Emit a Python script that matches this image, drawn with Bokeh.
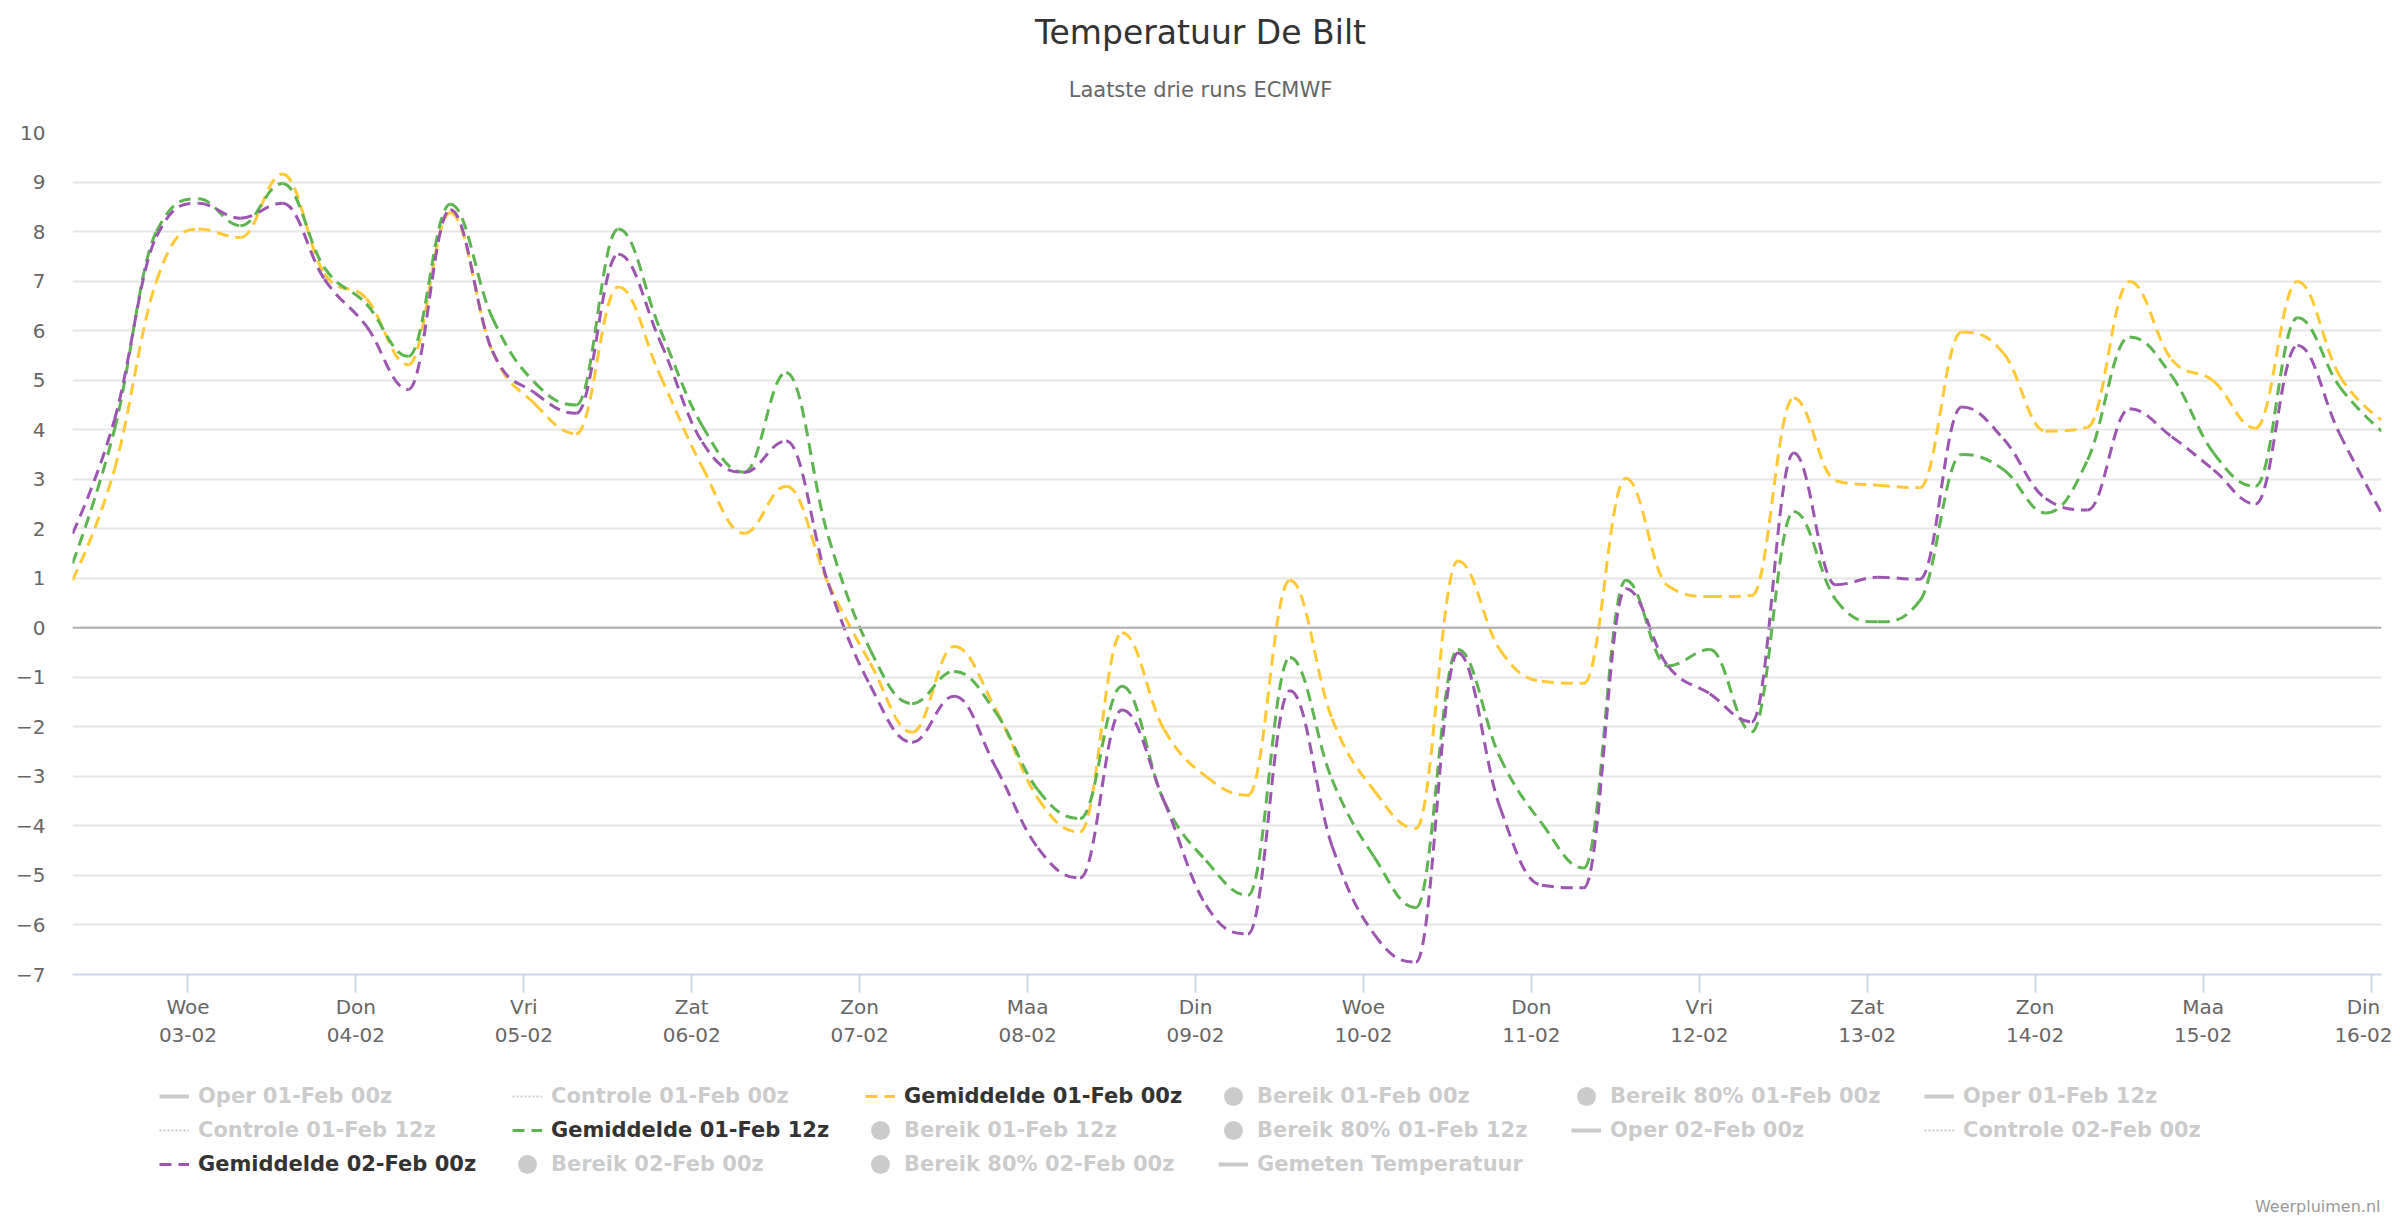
from bokeh.plotting import figure
from bokeh.layouts import column
from bokeh.models import (Range1d, FixedTicker, Legend, LegendItem, Label, Span,
                          ColumnDataSource)
from bokeh.embed import file_html
from bokeh.resources import INLINE

FONT = "DejaVu Sans"
W = 2392
FRAME_LEFT = 72      # header/footer frames are aligned with the chart frame

# ---------------- data ----------------
day_names = ["Woe", "Don", "Vri", "Zat", "Zon", "Maa", "Din",
             "Woe", "Don", "Vri", "Zat", "Zon", "Maa", "Din"]
day_dates = ["03-02", "04-02", "05-02", "06-02", "07-02", "08-02", "09-02",
             "10-02", "11-02", "12-02", "13-02", "14-02", "15-02", "16-02"]

# hours after 02-02 00:00 of the first value, 6-hourly values
first_hour = 7.5
step_hours = 6

gem_01feb_00z = [0.96, 3.2, 7.0, 8.05, 7.88, 9.16, 7.15, 6.65, 5.31, 8.38,
                 5.59, 4.53, 3.92, 6.88, 5.09, 3.25, 1.91, 2.86, 0.9, -0.71,
                 -2.11, -0.38, -1.66, -3.45, -4.12, -0.1, -2.05, -3.0, -3.38, 0.96,
                 -1.83, -3.28, -4.05, 1.35, -0.44, -1.08, -1.12, 3.02, 0.85, 0.63,
                 0.65, 4.64, 2.97, 2.88, 2.83, 5.97, 5.54, 3.97, 4.05, 6.99,
                 5.42, 4.98, 4.03, 6.99, 5.09, 4.2]
gem_01feb_12z = [1.3, 4.0, 8.0, 8.66, 8.12, 8.97, 7.27, 6.54, 5.48, 8.55,
                 6.26, 4.96, 4.5, 8.05, 6.02, 4.08, 3.14, 5.15, 1.85, -0.44,
                 -1.53, -0.88, -1.72, -3.28, -3.85, -1.18, -3.5, -4.7, -5.4, -0.6,
                 -3.06, -4.62, -5.65, -0.44, -2.61, -3.95, -4.85, 0.96, -0.77, -0.44,
                 -2.1, 2.35, 0.57, 0.12, 0.54, 3.5, 3.19, 2.32, 3.39, 5.87,
                 5.09, 3.53, 2.86, 6.26, 4.87, 3.97]
gem_02feb_00z = [1.9, 4.2, 7.9, 8.57, 8.27, 8.57, 7.04, 6.09, 4.81, 8.44,
                 5.59, 4.75, 4.33, 7.54, 5.78, 3.75, 3.14, 3.77, 0.9, -1.16,
                 -2.31, -1.38, -2.83, -4.45, -5.05, -1.66, -3.5, -5.6, -6.18, -1.27,
                 -4.4, -6.18, -6.75, -0.51, -3.62, -5.2, -5.25, 0.79, -0.77, -1.33,
                 -1.9, 3.53, 0.87, 1.02, 0.98, 4.46, 3.81, 2.61, 2.38, 4.42,
                 3.86, 3.19, 2.5, 5.7, 3.92, 2.32]

times = [first_hour + step_hours * i for i in range(len(gem_01feb_00z))]

legend_labels = [
    "Oper 01-Feb 00z", "Controle 01-Feb 00z", "Gemiddelde 01-Feb 00z",
    "Bereik 01-Feb 00z", "Bereik 80% 01-Feb 00z", "Oper 01-Feb 12z",
    "Controle 01-Feb 12z", "Gemiddelde 01-Feb 12z", "Bereik 01-Feb 12z",
    "Bereik 80% 01-Feb 12z", "Oper 02-Feb 00z", "Controle 02-Feb 00z",
    "Gemiddelde 02-Feb 00z", "Bereik 02-Feb 00z", "Bereik 80% 02-Feb 00z",
    "Gemeten Temperatuur"]

title_text = "Temperatuur De Bilt"
subtitle_text = "Laatste drie runs ECMWF"
credits_text = "Weerpluimen.nl"

YELLOW = "#ffc936"
GREEN = "#5cb54e"
PURPLE = "#9c55b0"
HIDDEN = "#333333"


# ------------- Highcharts-style spline control points -------------
def spline_segments(xs, ys, smoothing=1.5):
    n = len(xs)
    denom = smoothing + 1
    left = [None] * n
    right = [None] * n
    for i in range(1, n - 1):
        lx, ly = xs[i - 1], ys[i - 1]
        px, py = xs[i], ys[i]
        nx, ny = xs[i + 1], ys[i + 1]
        lcx = (smoothing * px + lx) / denom
        lcy = (smoothing * py + ly) / denom
        rcx = (smoothing * px + nx) / denom
        rcy = (smoothing * py + ny) / denom
        corr = 0.0
        if rcx != lcx:
            corr = ((rcy - lcy) * (rcx - px)) / (rcx - lcx) + py - rcy
        lcy += corr
        rcy += corr
        if lcy > ly and lcy > py:
            lcy = max(ly, py)
            rcy = 2 * py - lcy
        elif lcy < ly and lcy < py:
            lcy = min(ly, py)
            rcy = 2 * py - lcy
        if rcy > ny and rcy > py:
            rcy = max(ny, py)
            lcy = 2 * py - rcy
        elif rcy < ny and rcy < py:
            rcy = min(ny, py)
            lcy = 2 * py - rcy
        left[i] = (lcx, lcy)
        right[i] = (rcx, rcy)
    seg = dict(x0=[], y0=[], x1=[], y1=[], cx0=[], cy0=[], cx1=[], cy1=[])
    for i in range(1, n):
        c0 = right[i - 1] or (xs[i - 1], ys[i - 1])
        c1 = left[i] or (xs[i], ys[i])
        seg["x0"].append(xs[i - 1]); seg["y0"].append(ys[i - 1])
        seg["x1"].append(xs[i]); seg["y1"].append(ys[i])
        seg["cx0"].append(c0[0]); seg["cy0"].append(c0[1])
        seg["cx1"].append(c1[0]); seg["cy1"].append(c1[1])
    return seg


def blank_figure(height):
    f = figure(width=W, height=height, output_backend="svg", toolbar_location=None,
               x_axis_type=None, y_axis_type=None, x_range=Range1d(0, 1),
               y_range=Range1d(0, 1), min_border=0, title=None)
    f.outline_line_color = None
    f.background_fill_color = "white"
    f.border_fill_color = "white"
    return f


# ---------------- header: title + subtitle ----------------
HEADER_H = 112
head = blank_figure(HEADER_H)
head.add_layout(Label(x=1200 - FRAME_LEFT, y=HEADER_H - 32, x_units="screen", y_units="screen",
                      text=title_text, text_font=FONT, text_font_size="33px",
                      text_color="#333333", text_align="center", text_baseline="middle"))
head.add_layout(Label(x=1200 - FRAME_LEFT, y=HEADER_H - 89, x_units="screen", y_units="screen",
                      text=subtitle_text, text_font=FONT, text_font_size="21px",
                      text_color="#666666", text_align="center", text_baseline="middle"))

# ---------------- main chart ----------------
p = figure(width=W, height=942, output_backend="svg", toolbar_location=None,
           title=None,
           x_range=Range1d(times[0], times[-1]), y_range=Range1d(-7, 10),
           min_border_left=FRAME_LEFT, min_border_right=11, min_border_top=20,
           min_border_bottom=80)
p.outline_line_color = None
p.background_fill_color = "white"
p.border_fill_color = "white"

day_ticks = [24 * (i + 1) for i in range(len(day_names))]
p.xaxis.ticker = FixedTicker(ticks=day_ticks)
p.xaxis.major_label_overrides = {t: f"{n}\n{d}" for t, n, d in zip(day_ticks, day_names, day_dates)}
p.xaxis.axis_line_color = "#ccd6eb"
p.xaxis.axis_line_width = 2
p.xaxis.major_tick_line_color = "#ccd6eb"
p.xaxis.major_tick_line_width = 2
p.xaxis.major_tick_out = 18
p.xaxis.major_tick_in = 0
p.xaxis.minor_tick_line_color = None
p.xaxis.major_label_standoff = 2
p.xaxis.major_label_text_font = FONT
p.xaxis.major_label_text_font_size = "20px"
p.xaxis.major_label_text_color = "#666666"

p.yaxis.ticker = FixedTicker(ticks=list(range(-7, 11)))
p.yaxis.axis_line_color = None
p.yaxis.major_tick_line_color = None
p.yaxis.major_tick_out = 0
p.yaxis.major_tick_in = 0
p.yaxis.minor_tick_line_color = None
p.yaxis.major_label_standoff = 27
p.yaxis.major_label_text_font = FONT
p.yaxis.major_label_text_font_size = "20px"
p.yaxis.major_label_text_color = "#666666"

p.xgrid.grid_line_color = None
p.ygrid.grid_line_color = "#e6e6e6"
p.ygrid.grid_line_width = 2

p.add_layout(Span(location=0, dimension="width", line_color="#b0b0b0", line_width=2))

series = [(gem_01feb_00z, YELLOW), (gem_01feb_12z, GREEN), (gem_02feb_00z, PURPLE)]
for vals, col in series:
    src = ColumnDataSource(spline_segments(times, vals))
    p.bezier(x0="x0", y0="y0", x1="x1", y1="y1", cx0="cx0", cy0="cy0",
             cx1="cx1", cy1="cy1", source=src, line_color=col, line_width=3,
             line_dash="12 7")

# ---------------- footer: legend + credits ----------------
FOOTER_H = 162
foot = blank_figure(FOOTER_H)
# legend proxies: one point outside the footer's view so that the legend draws a symbol
proxy_x = [-1.0]
proxy_y = [-1.0]

def hidden_line(dash, width):
    return foot.line(x=proxy_x, y=proxy_y, line_color=HIDDEN, line_width=width,
                     line_dash=dash, visible=False)

def hidden_area():
    # a single round dot in the middle of the legend symbol box
    return foot.line(x=proxy_x, y=proxy_y, line_color=HIDDEN, line_width=19,
                     line_cap="round", line_dash="0 100", line_dash_offset=85,
                     visible=False)

def shown_line(col):
    return foot.line(x=proxy_x, y=proxy_y, line_color=col, line_width=3, line_dash="12 7")

renderers = [
    hidden_line("solid", 4), hidden_line("2 2", 2), shown_line(YELLOW),
    hidden_area(), hidden_area(), hidden_line("solid", 4),
    hidden_line("2 2", 2), shown_line(GREEN), hidden_area(),
    hidden_area(), hidden_line("solid", 4), hidden_line("2 2", 2),
    shown_line(PURPLE), hidden_area(), hidden_area(),
    hidden_line("solid", 4),
]
items = [LegendItem(label=lab, renderers=[r]) for lab, r in zip(legend_labels, renderers)]
legend = Legend(items=items, orientation="horizontal", ncols=6,
                location=(159 - FRAME_LEFT, 35), click_policy="hide",
                inactive_fill_color="white", inactive_fill_alpha=0.75,
                glyph_width=30, glyph_height=34, label_height=34, label_width=314,
                label_standoff=9, spacing=0, padding=0, margin=0,
                label_text_font=FONT, label_text_font_size="21px",
                label_text_font_style="bold", label_text_color="#333333",
                background_fill_alpha=0, border_line_color=None)
foot.add_layout(legend, "center")

foot.add_layout(Label(x=2380 - FRAME_LEFT, y=10, x_units="screen", y_units="screen",
                      text=credits_text, text_font=FONT, text_font_size="16px",
                      text_color="#999999", text_align="right", text_baseline="middle"))

page = column(head, p, foot, spacing=0)
open("out.html", "w").write(file_html(page, INLINE))
